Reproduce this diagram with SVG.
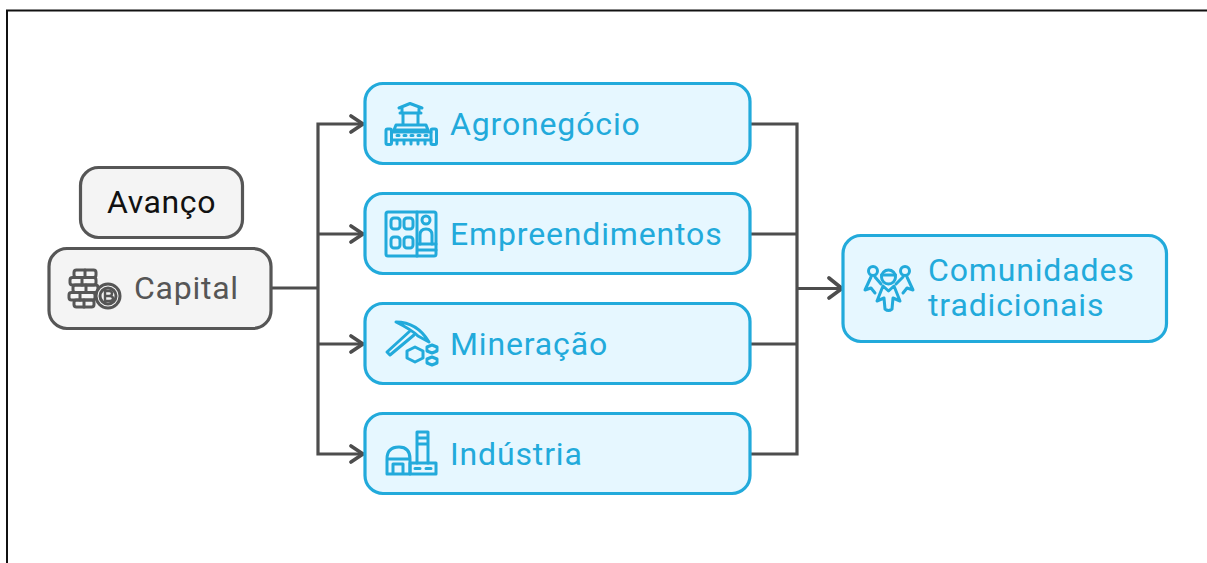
<svg xmlns="http://www.w3.org/2000/svg" width="1207" height="563" viewBox="0 0 1207 563">
<defs>
<style>
.blue{fill:#e6f7ff;stroke:#22aadb;stroke-width:3.2}
.grey{fill:#f4f4f4;stroke:#565656;stroke-width:3.2}
.lbl{font-family:Roboto,"Liberation Sans",sans-serif;font-size:32px;letter-spacing:.85px;fill:#22aadb}
.ib{fill:none;stroke:#22aadb;stroke-width:3;stroke-linejoin:round;stroke-linecap:round}
.ig{fill:none;stroke:#565656;stroke-width:3;stroke-linejoin:round;stroke-linecap:round}
.c{fill:none;stroke:#4d4d4d;stroke-width:3.2}
.a{fill:none;stroke:#4d4d4d;stroke-width:3.6;stroke-linecap:round;stroke-linejoin:round}
</style>
</defs>
<rect width="1207" height="563" fill="#fff"/>
<path d="M7 563V10.500H1207" fill="none" stroke="#111" stroke-width="2"/>
<g id="connectors">
<path class="c" d="M272 288H318M318 122.400V455.600M318 124H364M318 234H364M318 344H364M318 454H364"/>
<path class="c" d="M750 124H797M750 234H797M750 344H797M750 454H797M797 122.400V455.600M797 288.500H842"/>
<path class="a" d="M351 116L363 124L351 132M351 226L363 234L351 242M351 336L363 344L351 352M351 446L363 454L351 462M829 278L842 288.500L829 298"/>
</g>
<g id="avanco">
<rect class="grey" x="80.500" y="167.500" width="162" height="70" rx="18"/>
<text x="107" y="213" font-family="Roboto,'Liberation Sans',sans-serif" font-size="32" letter-spacing=".6" fill="#111">Avanço</text>
</g>
<g id="capital">
<rect class="grey" x="49" y="248.500" width="222" height="80" rx="18"/>
<g class="ig">
<rect x="74" y="270" width="22" height="7.500" rx="2.500"/><rect x="70" y="277.500" width="26" height="7.500" rx="2.500"/><rect x="73" y="285" width="25" height="7.500" rx="2.500"/><rect x="69" y="292.500" width="26" height="7.500" rx="2.500"/><rect x="74" y="300" width="20" height="7" rx="2.500"/>
<path d="M85 270V277.500M82 277.500V285M86 285V292.500M80 292.500V300M84 300V307"/>
<circle cx="108" cy="296" r="12" fill="#f4f4f4"/><circle cx="108" cy="296" r="8"/>
<path d="M105 291V301M105 291H109Q112 291 112 293.500Q112 296 109 296H105M109 296Q113 296 113 298.500Q113 301 109 301H105" stroke-width="2.400"/>
</g>
<text x="134" y="299" font-family="Roboto,'Liberation Sans',sans-serif" font-size="32" letter-spacing=".75" fill="#565656">Capital</text>
</g>
<g id="agronegocio">
<rect class="blue" x="365" y="83.500" width="385" height="80" rx="18"/>
<g class="ib">
<path d="M399 108L410 103.500L422 108M402 108V113H419V108M400 113H421M403 113V125M418 113V125M396 125H426L428 130H394Z"/>
<rect x="386" y="129" width="5.500" height="15.500" rx="1.500"/><rect x="431" y="129" width="5.500" height="15.500" rx="1.500"/>
<path d="M391.500 132H431M391.500 140H431M397 140V144M404 140V144M411 140V144M418 140V144M425 140V144M397 135.500H399M404 135.500H406M411 135.500H413M418 135.500H420M425 135.500H427"/>
</g>
<text class="lbl" x="450" y="134.500">Agronegócio</text>
</g>
<g id="empreendimentos">
<rect class="blue" x="365" y="193.500" width="385" height="80" rx="18"/>
<g class="ib">
<rect x="386" y="212" width="50" height="44" rx="2"/>
<path d="M417 212V256M417 244H436M417 250H436"/>
<rect x="391" y="218" width="9" height="11" rx="3"/><rect x="404" y="218" width="9" height="11" rx="3"/>
<rect x="391" y="237" width="9" height="11" rx="3"/><rect x="404" y="237" width="9" height="11" rx="3"/>
<circle cx="426" cy="220" r="4"/><path d="M420 244V235Q420 229 426 229Q432 229 432 235V244"/>
</g>
<text class="lbl" x="450" y="244.500">Empreendimentos</text>
</g>
<g id="mineracao">
<rect class="blue" x="365" y="303.500" width="385" height="80" rx="18"/>
<g class="ib">
<path d="M396 322Q417 322 429 342L418 336Q412 330 396 322Z"/>
<path d="M410 331L387 352L390 355L414 335"/>
<path d="M407 351L415 347L423 351V358L415 362L407 358Z"/>
<path d="M427 347L432 345L437 347V351L432 353L427 351Z"/>
<path d="M427 359L432 357L437 359V363L432 365L427 363Z"/>
</g>
<text class="lbl" x="450" y="354.500">Mineração</text>
</g>
<g id="industria">
<rect class="blue" x="365" y="413.500" width="385" height="80" rx="18"/>
<g class="ib">
<path d="M387 474V459Q387 447 399 447Q410 447 410 459V474ZM387 459H410M393 474V464H403V474"/>
<path d="M417 463V432H428V463M417 438H428M417 444H428"/>
<path d="M410 463H436V474H410ZM415 468.500H420M426 468.500H431"/>
</g>
<text class="lbl" x="450" y="464.500">Indústria</text>
</g>
<g id="comunidades">
<rect class="blue" x="843" y="235.500" width="323.500" height="106" rx="18"/>
<g class="ib">
<circle cx="873" cy="271" r="4.500"/><circle cx="905" cy="271" r="4.500"/><circle cx="888.500" cy="277" r="7"/>
<path d="M881.500 275H895.500"/>
<path d="M871 277L865 290L871 288L875 293M907 277L913 290L907 288L903 293M875 277L881 284M903 277L896 284"/>
<path d="M883 286L888.500 291L894 286L900 301L893 298L892 309Q888.500 312 885 309L884 298L877 301Z"/>
</g>
<text class="lbl" x="928" y="281">Comunidades</text>
<text class="lbl" x="928" y="316">tradicionais</text>
</g>
</svg>
